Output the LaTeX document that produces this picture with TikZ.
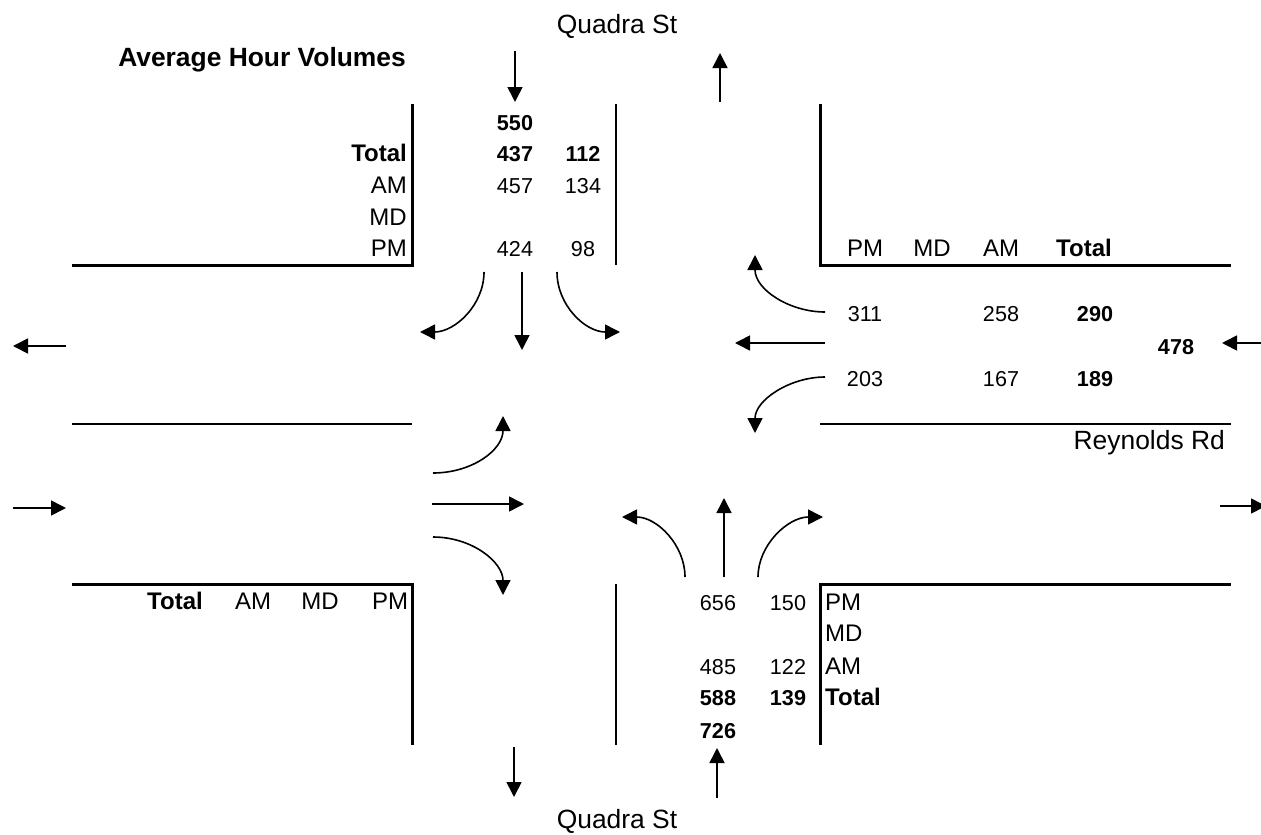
\documentclass[tikz,border=0pt]{standalone}
\usepackage{fontspec}
\setmainfont{Liberation Sans}
\usetikzlibrary{arrows.meta}
\definecolor{ink}{HTML}{000000}
\tikzset{
  street/.style={font=\fontsize{26.4}{30}\selectfont,text=ink,inner sep=0pt},
  titletext/.style={font=\bfseries\fontsize{26.4}{30}\selectfont,text=ink,inner sep=0pt},
  lbl/.style={font=\fontsize{24}{28}\selectfont,text=ink,inner sep=0pt},
  lblb/.style={font=\bfseries\fontsize{24}{28}\selectfont,text=ink,inner sep=0pt},
  num/.style={font=\fontsize{21.6}{26}\selectfont,text=ink,inner sep=0pt,anchor=base},
  numb/.style={font=\bfseries\fontsize{21.6}{26}\selectfont,text=ink,inner sep=0pt,anchor=base},
  curb/.style={draw=ink,line width=3pt},
  lane/.style={draw=ink,line width=1.2pt},
  flow/.style={-{Triangle[length=15pt,width=15pt]},draw=ink,line width=1.6pt}
}
\begin{document}
\begin{tikzpicture}[x=1pt,y=-1pt]
\path[use as bounding box] (0,0) rectangle (1261,835);
% street names and title
\node[street,anchor=base] (qnorth) at (617,34) {Quadra St};
\node[street,anchor=base] (qsouth) at (617,828) {Quadra St};
\node[street,anchor=base east] (reyn) at (1225,449) {Reynolds Rd};
\node[titletext,anchor=base east] (avg) at (406,66) {Average Hour Volumes};

% kerbs and centre lines
\draw[curb] (72,265)--(412,265)--(412,104);
\draw[curb] (820,104)--(820,265)--(1231,265);
\draw[curb] (72,584)--(412,584)--(412,745);
\draw[curb] (820,745)--(820,584)--(1231,584);
\draw[lane] (616,104)--(616,265);
\draw[lane] (616,584)--(616,745);
\draw[lane] (72,424)--(412,424);
\draw[lane] (820,424)--(1231,424);

% north leg table
\node[lblb,anchor=base east] (ntot) at (407,161) {Total};
\foreach \y/\t/\n in {193/AM/nam,225/MD/nmd,256/PM/npm}{
\node[lbl,anchor=base east] (\n) at (407,\y) {\t};
}
\node[numb] (nsum) at (515,130) {550};
\node[numb] (nt1) at (515,161) {437}; \node[numb] (nt2) at (583,161) {112};
\node[num] (na1) at (515,193) {457}; \node[num] (na2) at (583,193) {134};
\node[num] (np1) at (515,256) {424}; \node[num] (np2) at (583,256) {98};

% east leg table
\foreach \x/\t/\n in {865/PM/epm,932/MD/emd,1001/AM/eam}{
\node[lbl,anchor=base] (\n) at (\x,256) {\t};
}
\node[lblb,anchor=base] (etot) at (1084,256) {Total};
\node[num] (e1p) at (865,321) {311}; \node[num] (e1a) at (1001,321) {258}; \node[numb] (e1t) at (1095,321) {290};
\node[numb] (esum) at (1176,354) {478};
\node[num] (e2p) at (865,386) {203}; \node[num] (e2a) at (1001,386) {167}; \node[numb] (e2t) at (1095,386) {189};

% west leg table
\node[lblb,anchor=base] (wtot) at (175,609) {Total};
\foreach \x/\t/\n in {253/AM/wam,320/MD/wmd,390/PM/wpm}{
\node[lbl,anchor=base] (\n) at (\x,609) {\t};
}

% south leg table
\foreach \y/\t/\n in {610/PM/spm,641/MD/smd,674/AM/sam}{
\node[lbl,anchor=base west] (\n) at (825,\y) {\t};
}
\node[lblb,anchor=base west] (stot) at (825,705) {Total};
\node[num] (sp1) at (718,610) {656}; \node[num] (sp2) at (788,610) {150};
\node[num] (sa1) at (718,674) {485}; \node[num] (sa2) at (788,674) {122};
\node[numb] (st1) at (718,705) {588}; \node[numb] (st2) at (788,705) {139};
\node[numb] (ssum) at (718,738) {726};

% approach and exit arrows
\draw[flow] (515,51)--(515,102);
\draw[flow] (720,102)--(720,53);
\draw[flow] (514,747)--(514,797);
\draw[flow] (717,798)--(717,748);
\draw[flow] (66,346)--(13,346);
\draw[flow] (13,508)--(66,508);
\draw[flow] (1262,343)--(1222,343);
\draw[flow] (1220,506)--(1266,506);

% southbound
\draw[flow] (484,272) .. controls (484,305) and (455,332) .. (420,332);
\draw[flow] (522,272)--(522,350);
\draw[flow] (557,272) .. controls (557,305) and (585,332) .. (620,332);
% westbound
\draw[flow] (825,312) .. controls (790,312) and (755,290) .. (755,255);
\draw[flow] (825,343)--(735,343);
\draw[flow] (825,377) .. controls (790,377) and (755,400) .. (755,433);
% eastbound
\draw[flow] (433,473) .. controls (472,473) and (503,450) .. (503,416);
\draw[flow] (432,504)--(524,504);
\draw[flow] (433,537) .. controls (472,537) and (503,562) .. (503,595);
% northbound
\draw[flow] (685,577) .. controls (685,545) and (657,517) .. (622,517);
\draw[flow] (724,577)--(724,498);
\draw[flow] (758,577) .. controls (758,545) and (788,517) .. (823,517);
\end{tikzpicture}
\end{document}
